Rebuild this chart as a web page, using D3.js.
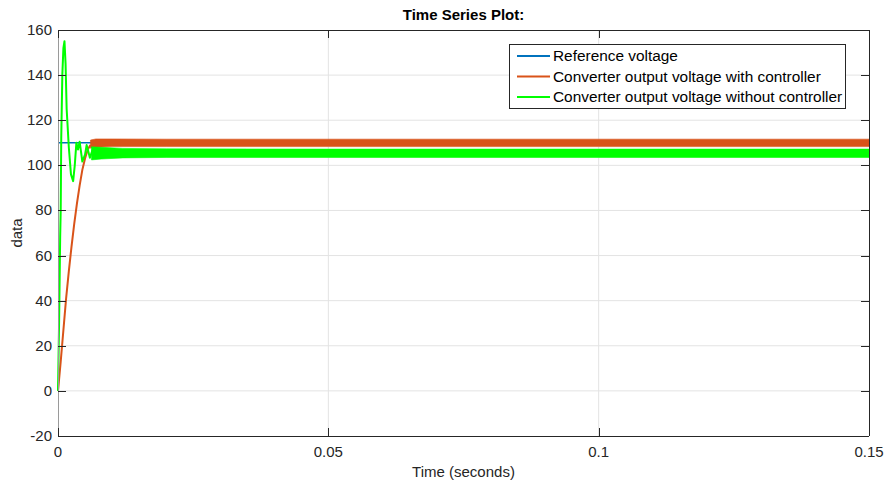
<!DOCTYPE html>
<html>
<head>
<meta charset="utf-8">
<script src="https://cdn.jsdelivr.net/npm/d3@7"></script>
<style>
  html, body { margin: 0; padding: 0; background: #fff; }
  svg { display: block; font-family: "Liberation Sans", Arial, sans-serif; }
</style>
</head>
<body>
<svg id="chart" width="884" height="482"></svg>
<script>
// ---------- data ----------
const titleText = "Time Series Plot:";
const xLabelText = "Time (seconds)";
const yLabelText = "data";
const seriesNames = ["Reference voltage", "Converter output voltage with controller", "Converter output voltage without controller"];
const seriesColors = ["#0072BD", "#D95319", "#00FF00"];

const xTicks = [0, 0.05, 0.1, 0.15];
const xTickLabels = ["0", "0.05", "0.1", "0.15"];
const yTicks = [-20, 0, 20, 40, 60, 80, 100, 120, 140, 160];

// Reference voltage
const refT = [0, 0.15];
const refV = [110, 110];

// With controller: transient rise
const ctrlT = [0, 0.0005, 0.001, 0.0015, 0.002, 0.0025, 0.003, 0.0035, 0.004, 0.0045, 0.005, 0.0055, 0.006];
const ctrlV = [0, 13, 27, 41, 53, 64, 74, 83, 91, 98, 103, 107, 109];
// With controller: steady-state ripple envelope
const ctrlBandT = [0.006, 0.007, 0.01, 0.02, 0.05, 0.1, 0.15];
const ctrlUpper = [111.2, 111.7, 111.7, 111.6, 111.6, 111.6, 111.6];
const ctrlLower = [107.6, 108.0, 108.3, 108.3, 108.3, 108.3, 108.3];

// Without controller: transient
const noCtrlT = [0, 0.0002, 0.0004, 0.0005, 0.0006, 0.0008, 0.001, 0.0012, 0.0014, 0.0016, 0.002, 0.0024, 0.0028, 0.0031, 0.0034, 0.0037, 0.004, 0.0045, 0.005, 0.0053, 0.0059, 0.0065];
const noCtrlV = [0, 30, 68, 80, 112, 140, 152, 155, 145, 125, 108, 96, 93, 100, 110, 107, 110.5, 101.7, 104.7, 109, 103.4, 107.5];
// Without controller: steady-state ripple envelope
const noCtrlBandT = [0.0062, 0.008, 0.012, 0.02, 0.05, 0.1, 0.15];
const noCtrlUpper = [108.2, 108.0, 107.5, 107.3, 107.2, 107.2, 107.2];
const noCtrlLower = [102.4, 102.8, 103.3, 103.5, 103.5, 103.5, 103.5];

// ---------- layout ----------
const svg = d3.select("#chart");
const L = 58, R = 869, T = 30, B = 436;
const x = d3.scaleLinear().domain([0, 0.15]).range([L, R]);
const y = d3.scaleLinear().domain([-20, 160]).range([B, T]);
const axisColor = "#262626";
const tickLen = 8;

// grid
const grid = svg.append("g");
grid.selectAll(".gx").data(xTicks.slice(1, -1)).enter().append("line")
  .attr("x1", d => x(d)).attr("x2", d => x(d)).attr("y1", T).attr("y2", B)
  .attr("stroke", "#e3e3e3").attr("stroke-width", 1);
grid.selectAll(".gy").data(yTicks.slice(1, -1)).enter().append("line")
  .attr("x1", L).attr("x2", R).attr("y1", d => y(d)).attr("y2", d => y(d))
  .attr("stroke", "#e3e3e3").attr("stroke-width", 1);

// data
const plot = svg.append("g");
const line = d3.line().x(d => x(d[0])).y(d => y(d[1]));
const zip = (a, b) => a.map((v, i) => [v, b[i]]);
const band = d3.area().x(d => x(d[0])).y0(d => y(d[2])).y1(d => y(d[1]));
const zip3 = (a, b, c) => a.map((v, i) => [v, b[i], c[i]]);

plot.append("path").attr("d", line(zip(refT, refV)))
  .attr("fill", "none").attr("stroke", seriesColors[0]).attr("stroke-width", 1.6);

plot.append("path").attr("d", line(zip(ctrlT, ctrlV)))
  .attr("fill", "none").attr("stroke", seriesColors[1]).attr("stroke-width", 2);
plot.append("path").attr("d", band(zip3(ctrlBandT, ctrlUpper, ctrlLower)))
  .attr("fill", seriesColors[1]).attr("stroke", seriesColors[1]).attr("stroke-width", 0.6);

plot.append("path").attr("d", line(zip(noCtrlT, noCtrlV)))
  .attr("fill", "none").attr("stroke", seriesColors[2]).attr("stroke-width", 2).attr("stroke-linejoin", "round");
plot.append("path").attr("d", band(zip3(noCtrlBandT, noCtrlUpper, noCtrlLower)))
  .attr("fill", seriesColors[2]).attr("stroke", seriesColors[2]).attr("stroke-width", 0.6);

// box & ticks
const ax = svg.append("g");
ax.append("line").attr("x1", L).attr("x2", R).attr("y1", T + 0.5).attr("y2", T + 0.5).attr("stroke", axisColor);
ax.append("line").attr("x1", L).attr("x2", R).attr("y1", B + 0.5).attr("y2", B + 0.5).attr("stroke", axisColor);
ax.append("line").attr("x1", R + 0.5).attr("x2", R + 0.5).attr("y1", T).attr("y2", B).attr("stroke", axisColor);
ax.append("line").attr("x1", L + 0.5).attr("x2", L + 0.5).attr("y1", T).attr("y2", B).attr("stroke", "#9a9a9a");

xTicks.forEach(t => {
  const px = Math.round(x(t)) + 0.5;
  ax.append("line").attr("x1", px).attr("x2", px).attr("y1", B).attr("y2", B - tickLen).attr("stroke", axisColor);
  ax.append("line").attr("x1", px).attr("x2", px).attr("y1", T).attr("y2", T + tickLen).attr("stroke", axisColor);
});
yTicks.forEach(t => {
  const py = Math.round(y(t)) + 0.5;
  ax.append("line").attr("x1", L).attr("x2", L + tickLen).attr("y1", py).attr("y2", py).attr("stroke", axisColor);
  ax.append("line").attr("x1", R).attr("x2", R - tickLen).attr("y1", py).attr("y2", py).attr("stroke", axisColor);
});

// tick labels
const fs = 15;
svg.append("g").selectAll("text").data(xTicks).enter().append("text")
  .attr("x", d => x(d)).attr("y", 457).attr("text-anchor", "middle")
  .attr("font-size", fs).attr("fill", axisColor)
  .text((d, i) => xTickLabels[i]);
svg.append("g").selectAll("text").data(yTicks).enter().append("text")
  .attr("x", 52).attr("y", d => y(d) + 5).attr("text-anchor", "end")
  .attr("font-size", fs).attr("fill", axisColor)
  .text(d => d);

// labels
svg.append("text").attr("x", (L + R) / 2).attr("y", 477).attr("text-anchor", "middle")
  .attr("font-size", fs).attr("fill", axisColor).text(xLabelText);
svg.append("text").attr("transform", `translate(22,${(T + B) / 2}) rotate(-90)`).attr("text-anchor", "middle")
  .attr("font-size", fs).attr("fill", axisColor).text(yLabelText);
svg.append("text").attr("x", (L + R) / 2).attr("y", 20).attr("text-anchor", "middle")
  .attr("font-size", fs).attr("font-weight", "bold").attr("fill", "#000").text(titleText);

// legend
const lg = svg.append("g");
const lgX = 509, lgY = 44, lgW = 336, lgH = 64;
lg.append("rect").attr("x", lgX + 0.5).attr("y", lgY + 0.5).attr("width", lgW).attr("height", lgH)
  .attr("fill", "#fff").attr("stroke", axisColor).attr("stroke-width", 1);
seriesNames.forEach((name, i) => {
  const cy = lgY + 12 + i * 20.5;
  lg.append("line").attr("x1", lgX + 8).attr("x2", lgX + 41).attr("y1", cy).attr("y2", cy)
    .attr("stroke", seriesColors[i]).attr("stroke-width", 2);
  lg.append("text").attr("x", lgX + 44).attr("y", cy + 5).attr("font-size", 15.4).attr("fill", "#000").text(name);
});
</script>
</body>
</html>
